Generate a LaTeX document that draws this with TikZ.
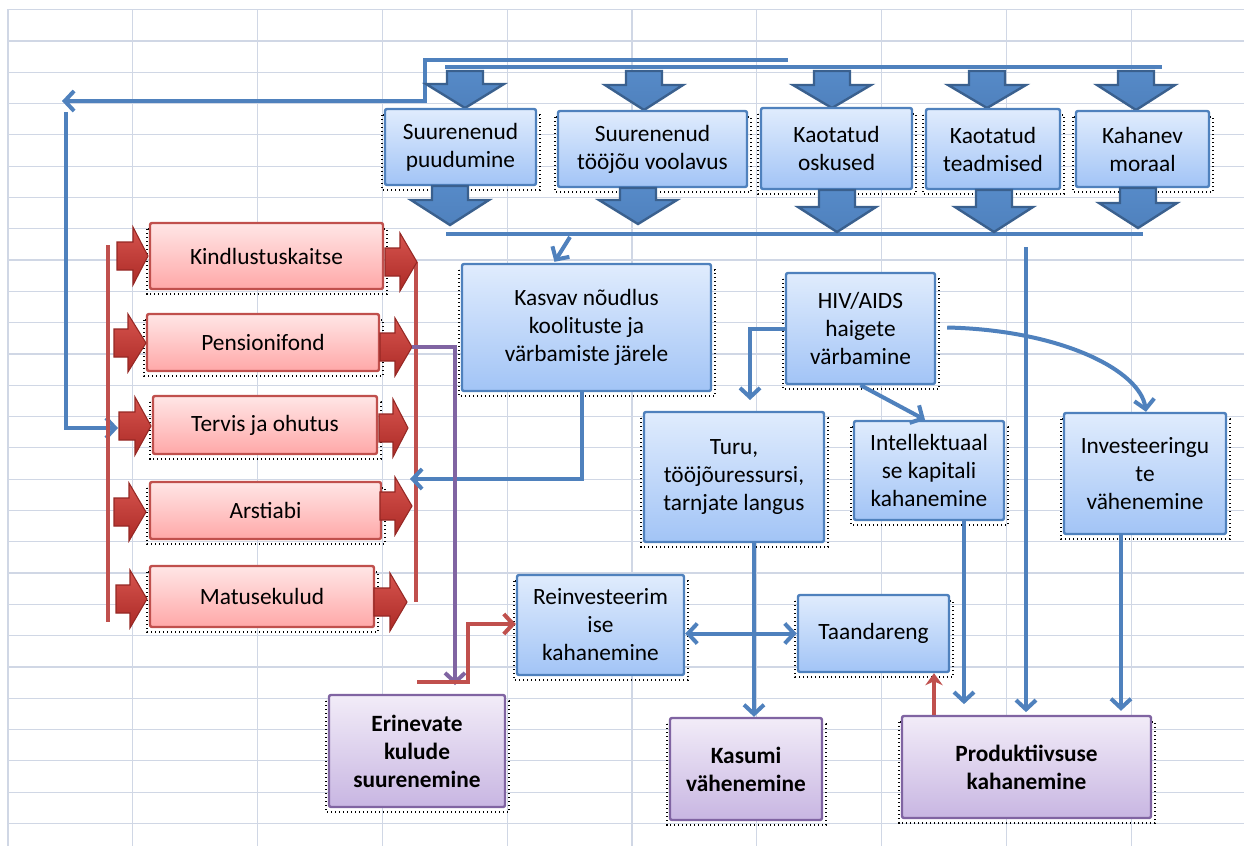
\documentclass[tikz,border=0pt]{standalone}
\usepackage{fontspec}
\setmainfont{Carlito}
\usetikzlibrary{arrows.meta,calc}
\definecolor{gridc}{RGB}{208,215,229}
\definecolor{bluel}{RGB}{79,129,189}
\definecolor{blued}{RGB}{58,96,142}
\definecolor{bluem}{RGB}{86,138,200}
\definecolor{redl}{RGB}{192,80,77}
\definecolor{redd}{RGB}{150,40,36}
\definecolor{redt}{RGB}{214,84,78}
\definecolor{redb}{RGB}{172,42,38}
\definecolor{purl}{RGB}{128,100,162}
\definecolor{btop}{RGB}{224,236,253}
\definecolor{bbot}{RGB}{162,196,246}
\definecolor{rtop}{RGB}{255,230,230}
\definecolor{rbot}{RGB}{255,168,168}
\definecolor{ptop}{RGB}{242,236,248}
\definecolor{pbot}{RGB}{200,182,226}
\pgfdeclarelayer{bg}\pgfdeclarelayer{shad}
\pgfsetlayers{bg,shad,main}
\tikzset{
 box/.style={draw, line width=1.8pt, rounded corners=1.5pt, align=center, inner sep=0pt, text=black, font=\fontsize{17.5}{21}\selectfont},
 bluebox/.style={box, draw=bluel, top color=btop, bottom color=bbot},
 redbox/.style={box, draw=redl, top color=rtop, bottom color=rbot},
 purbox/.style={box, draw=purl, top color=ptop, bottom color=pbot, font=\fontsize{17.5}{21}\selectfont\bfseries},
 dotsh/.style={draw=black, line width=1pt, dash pattern=on 0.8pt off 2.2pt},
 blk/.style={top color=bluem, bottom color=bluel, draw=blued, line width=1.8pt, line join=miter},
 redblk/.style={top color=redt, bottom color=redb, draw=redd, line width=0.8pt, line join=miter},
 tipb/.tip={Straight Barb[length=7pt,width=15pt]},
 bline/.style={draw=bluel, line width=3pt},
 barrow/.style={bline, -tipb},
 rline/.style={draw=redl, line width=3pt},
 rarrow/.style={rline, -tipb},
 parrow/.style={draw=purl, line width=3pt, -tipb},
 gridline/.style={draw=gridc, line width=0.9pt}
}
\newcommand\mkbox[7]{%
 \pgfmathsetmacro\bw{(#5-#3)*0.75}%
 \pgfmathsetmacro\bh{(#6-#4)*0.75}%
 \node[#1, minimum width=\bw pt, minimum height=\bh pt] (#2) at ({(#3+#5)/2},{(#4+#6)/2}) {#7};%
 \begin{pgfonlayer}{shad}\draw[dotsh] ({#3-3},{#4+6}) rectangle ({#5+4},{#6+5});\end{pgfonlayer}%
}
\newcommand\dnblk[4]{%
 \path[blk] ({#1-18},#2) -- ({#1+18},#2) -- ({#1+18},#3) -- ({#1+39},#3) -- (#1,#4) -- ({#1-39},#3) -- ({#1-18},#3) -- cycle;}
\newcommand\rtblk[4]{%
 \path[redblk] (#1,{#4-14}) -- (#2,{#4-14}) -- (#2,{#4-29}) -- (#3,#4) -- (#2,{#4+29}) -- (#2,{#4+14}) -- (#1,{#4+14}) -- cycle;}
\begin{document}
\begin{tikzpicture}[x=0.75pt,y=-0.75pt]
\useasboundingbox (0,0) rectangle (1244,846);
\begin{pgfonlayer}{bg}
 \fill[white] (0,0) rectangle (1244,846);
 \foreach \i in {0,...,9} \draw[gridline] ({8+124.8*\i},10) -- ({8+124.8*\i},846);
 \foreach \j in {0,...,26} \draw[gridline] (7,{9.6+31.3*\j}) -- (1244,{9.6+31.3*\j});
\end{pgfonlayer}

% top connectors
\coordinate (tA) at (788,60);
\coordinate (tB) at (425,60);
\coordinate (tC) at (62,101);
\draw[barrow] (tA) -- (tB) |- (tC);
\coordinate (tD) at (445,67);
\coordinate (tE) at (1162,67);
\draw[bline] (tD) -- (tE);
\coordinate (lA) at (66,112);
\coordinate (lB) at (118,428);
\draw[barrow] (lA) |- (lB);
\coordinate (bA) at (446,234);
\coordinate (bE) at (1143,234);
\draw[bline] (bA) -- (bE);

% top block arrows
\dnblk{465}{71}{84}{108}
\dnblk{644}{71}{85}{110}
\dnblk{832}{71}{85}{108}
\dnblk{987}{71}{85}{108}
\dnblk{1136}{71}{85}{110}

% top boxes
\mkbox{bluebox}{s1}{385}{109}{536}{185}{Suurenenud\\puudumine}
\mkbox{bluebox}{s2}{558}{111}{747}{187}{Suurenenud\\tööjõu voolavus}
\mkbox{bluebox}{s3}{761}{108}{912}{189}{Kaotatud\\oskused}
\mkbox{bluebox}{s4}{926}{109}{1060}{189}{Kaotatud\\teadmised}
\mkbox{bluebox}{s5}{1076}{111}{1209}{187}{Kahanev\\moraal}

% bottom block arrows
\dnblk{450}{186}{200}{225}
\dnblk{638}{188}{200}{224}
\dnblk{837}{190}{207}{232}
\dnblk{994}{190}{207}{232}
\dnblk{1138}{188}{203}{228}

% red bars
\coordinate (lbA) at (108,245);
\coordinate (lbB) at (108,622);
\draw[rline, line width=3.6pt] (lbA) -- (lbB);
\coordinate (rbA) at (416,262);
\coordinate (rbB) at (416,602);
\draw[rline, line width=3.6pt] (rbA) -- (rbB);

% red boxes
\mkbox{redbox}{k1}{150}{223}{383}{289}{Kindlustuskaitse}
\mkbox{redbox}{k2}{147}{314}{379}{371}{Pensionifond}
\mkbox{redbox}{k3}{153}{396}{377}{454}{Tervis ja ohutus}
\mkbox{redbox}{k4}{150}{482}{381}{539}{Arstiabi}
\mkbox{redbox}{k5}{150}{566}{374}{627}{Matusekulud}

% red block arrows
\rtblk{117}{133}{148}{256}
\rtblk{385}{400}{417}{262}
\rtblk{114}{128}{146}{343}
\rtblk{380}{395}{412}{347}
\rtblk{119}{135}{151}{426}
\rtblk{379}{393}{408}{428}
\rtblk{114}{129}{146}{512}
\rtblk{380}{395}{412}{506}
\rtblk{116}{130}{147}{599}
\rtblk{374}{390}{407}{602}

% middle boxes
\mkbox{bluebox}{kasvav}{462}{264}{711}{391}{Kasvav nõudlus\\koolituste ja\\värbamiste järele}
\mkbox{bluebox}{hiv}{786}{273}{935}{384}{HIV/AIDS\\haigete\\värbamine}
\mkbox{bluebox}{turu}{644}{412}{824}{542}{Turu,\\tööjõuressursi,\\tarnjate langus}
\mkbox{bluebox}{intel}{854}{421}{1004}{520}{Intellektuaal\\se kapitali\\kahanemine}
\mkbox{bluebox}{invest}{1064}{413}{1226}{534}{Investeeringu\\te\\vähenemine}
\mkbox{bluebox}{reinv}{517}{575}{684}{675}{Reinvesteerim\\ise\\kahanemine}
\mkbox{bluebox}{taand}{798}{595}{949}{672}{Taandareng}
\mkbox{purbox}{erin}{329}{695}{505}{807}{Erinevate\\kulude\\suurenemine}
\mkbox{purbox}{kasumi}{670}{718}{822}{820}{Kasumi\\vähenemine}
\mkbox{purbox}{prod}{902}{716}{1151}{818}{Produktiivsuse\\kahanemine}

% connectors
\coordinate (bK) at (570,237);
\draw[barrow] (bK) -- ($(kasvav.north)+(-32,-1)$);
\coordinate (bP) at (1026,247);
\draw[barrow, shorten >=2pt] (bP) -- (bP |- prod.north);
\coordinate (rbK) at (410,479);
\draw[barrow] ($(kasvav.south)+(-4.5,0)$) |- (rbK);
\coordinate (tuK) at (750,400);
\draw[barrow] (hiv.west) -| (tuK);
\draw[barrow] (hiv.south) -- ($(intel.north)+(-4,0)$);
\draw[barrow] ($(hiv.east)+(11,-1)$) .. controls (1060,330) and (1140,370) .. ($(invest.north)+(1,0)$);
\draw[barrow] ($(turu.south)+(20,0)$) -- ($(kasumi.north)+(8,0)$);
\draw[barrow, shorten >=8pt] ($(intel.south)+(35,0)$) -- ($(prod.north)+(-62.5,0)$);
\draw[barrow, shorten >=3pt] ($(invest.south)+(-24,0)$) -- ($(prod.north)+(94.5,0)$);
\draw[bline, tipb-tipb] (reinv.east |- taand.west) -- (taand.west);
\draw[rline, -{Stealth[length=9pt,width=13pt]}] ($(prod.north)+(-92.5,0)$) -- ($(taand.south)+(60.5,0)$);
\coordinate (pA) at (412,347);
\coordinate (pB) at (455,685);
\draw[parrow] (pA) -| (pB);
\coordinate (rA) at (417,682);
\coordinate (rB) at (468,682);
\draw[rarrow] (rA) -- (rB) |- ($(reinv.west)+(0,-1)$);
\end{tikzpicture}
\end{document}
